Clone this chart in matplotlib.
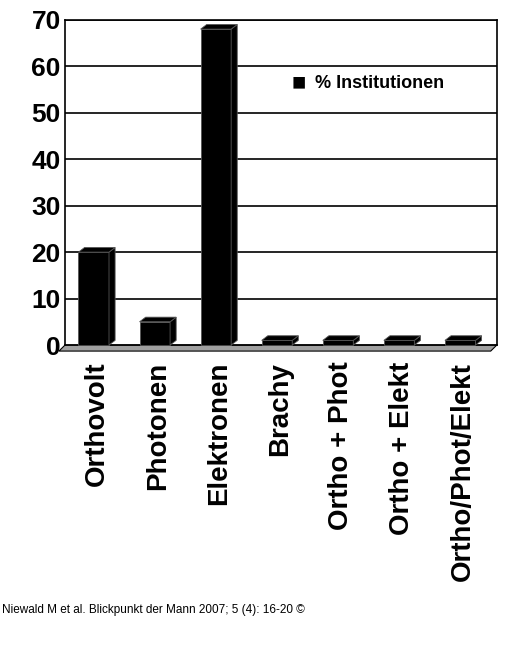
import matplotlib.pyplot as plt
from matplotlib.patches import Polygon

categories = ['Orthovolt', 'Photonen', 'Elektronen', 'Brachy',
              'Ortho + Phot', 'Ortho + Elekt', 'Ortho/Phot/Elekt']
values = [20, 5, 68, 1, 1, 1, 1]
yticks = [0, 10, 20, 30, 40, 50, 60, 70]

plt.rcParams['font.family'] = ['Liberation Sans', 'DejaVu Sans']
fig = plt.figure(figsize=(5.08, 6.61), dpi=100)
ax = fig.add_axes([0.128, 0.478, 0.85, 0.492])
ax.set_xlim(-0.52, 6.55)
ax.set_ylim(0, 70)

for y in yticks[1:]:
    ax.axhline(y, color='black', lw=1.2, zorder=1)

# floor
ax.add_patch(Polygon([(-0.52, 0), (6.55, 0), (6.45, -1.3), (-0.62, -1.3)],
                     closed=True, facecolor='#a0a0a0', edgecolor='black',
                     lw=0.8, clip_on=False, zorder=2))

w = 0.5
dx, dy = 0.1, 1.0
for i, v in enumerate(values):
    x0 = i - w / 2 - 0.05
    x1 = i + w / 2 - 0.05
    front = Polygon([(x0, 0), (x1, 0), (x1, v), (x0, v)], closed=True,
                    facecolor='black', edgecolor='#555555', lw=0.6, zorder=3)
    top = Polygon([(x0, v), (x1, v), (x1 + dx, v + dy), (x0 + dx, v + dy)],
                  closed=True, facecolor='black', edgecolor='#555555',
                  lw=0.6, zorder=3)
    side = Polygon([(x1, 0), (x1 + dx, dy), (x1 + dx, v + dy), (x1, v)],
                   closed=True, facecolor='black', edgecolor='#555555',
                   lw=0.6, zorder=3)
    for p in (front, side, top):
        p.set_clip_on(False)
        ax.add_patch(p)

ax.set_yticks(yticks)
ax.set_yticklabels([str(t) for t in yticks], fontsize=19, fontweight='bold')
ax.set_xticks(range(len(categories)))
ax.set_xticklabels(categories, rotation=90, fontsize=20, fontweight='bold')
ax.tick_params(axis='x', length=0, pad=12)
ax.tick_params(axis='y', length=0, pad=3)
for s in ax.spines.values():
    s.set_linewidth(1.2)

ax.text(0.525, 0.805, '\u25a0', transform=ax.transAxes, fontsize=17,
        va='center', ha='left')
ax.text(0.58, 0.805, '% Institutionen', transform=ax.transAxes, fontsize=13,
        fontweight='bold', va='center', ha='left')

fig.text(0.004, 0.077, 'Niewald M et al. Blickpunkt der Mann 2007; 5 (4): 16-20 \u00a9',
         fontsize=8.5, ha='left', va='center')

fig.savefig('out.png', dpi=100)
